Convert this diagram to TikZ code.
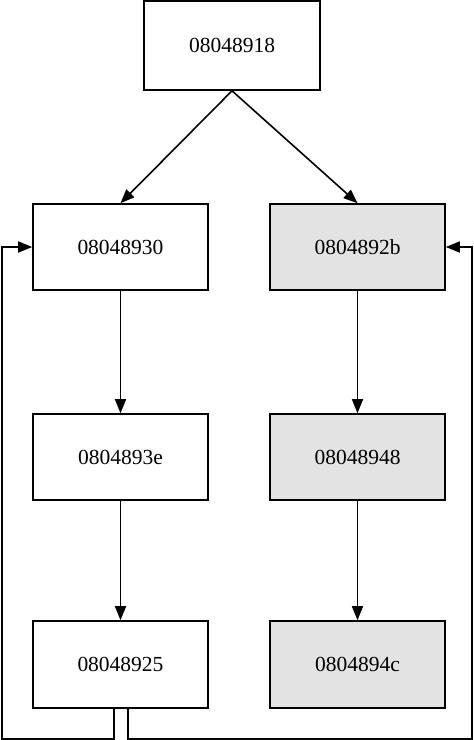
\documentclass[tikz,border=0pt]{standalone}
\usepackage{fontspec}
\setmainfont{Liberation Serif}
\usetikzlibrary{arrows.meta}
\definecolor{boxgrey}{HTML}{E3E3E3}
\begin{document}
\begin{tikzpicture}[x=1pt,y=-1pt,
  blk/.style={draw, line width=1.6pt, rectangle, minimum width=175pt, minimum height=86pt, inner sep=0pt, font=\fontsize{21.5}{26}\selectfont},
  gblk/.style={blk, fill=boxgrey},
  arr/.style={line width=1.6pt, -{Triangle[length=14pt,width=11pt]}}]
\useasboundingbox (0,0) rectangle (474,740);
\node[blk, minimum width=176pt, minimum height=89pt] (top) at (232,45.5) {08048918};
\node[blk] (l1) at (120.5,247) {08048930};
\node[blk] (l2) at (120.5,457) {0804893e};
\node[blk, minimum height=87pt] (l3) at (120.5,664.5) {08048925};
\node[gblk] (r1) at (357.5,247) {0804892b};
\node[gblk] (r2) at (357.5,457) {08048948};
\node[gblk, minimum height=87pt] (r3) at (357.5,664.5) {0804894c};
\coordinate (bl) at (2,739);
\coordinate (br) at (472,739);
\draw[arr] (top.south) -- (l1.north);
\draw[arr] (top.south) -- (r1.north);
\draw[arr] (l1.south) -- (l2.north);
\draw[arr] (l2.south) -- (l3.north);
\draw[arr] (r1.south) -- (r2.north);
\draw[arr] (r2.south) -- (r3.north);
\draw[arr] ([xshift=-6.5pt]l3.south) |- (bl) |- (l1.west);
\draw[arr] ([xshift=7.5pt]l3.south) |- (br) |- (r1.east);
\end{tikzpicture}
\end{document}
